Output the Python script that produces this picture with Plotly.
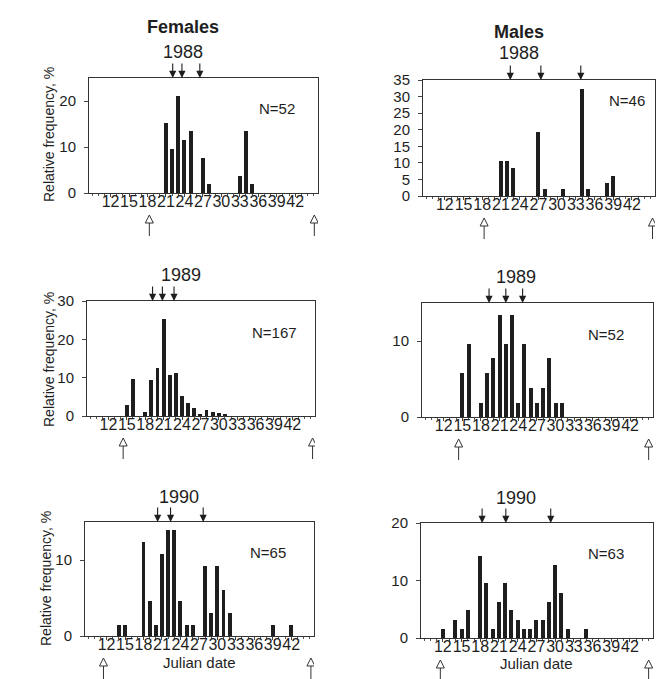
import plotly.graph_objects as go

# ---------------- data ----------------
x_tick_days = [12, 15, 18, 21, 24, 27, 30, 33, 36, 39, 42]
x_tick_labels = ["12", "15", "18", "21", "24", "27", "30", "33", "36", "39", "42"]

f1988_days = [21, 22, 23, 24, 25, 27, 28, 33, 34, 35]
f1988_vals = [15.3, 9.5, 21.0, 11.5, 13.4, 7.7, 1.9, 3.8, 13.4, 1.9]
f1988_marks = [22.1, 23.6, 26.5]
f1988_season = [18.3, 45.1]

m1988_days = [21, 22, 23, 27, 28, 31, 34, 35, 38, 39]
m1988_vals = [10.6, 10.6, 8.5, 19.2, 2.0, 2.0, 32.2, 2.0, 4.0, 6.0]
m1988_marks = [22.5, 27.4, 33.8]
m1988_season = [18.3, 45.3]

f1989_days = [15, 16, 18, 19, 20, 21, 22, 23, 24, 25, 26, 27, 28, 29, 30, 31]
f1989_vals = [3.0, 9.6, 1.0, 9.5, 12.5, 25.2, 10.6, 11.2, 5.1, 3.4, 2.2, 0.4, 1.5, 1.0, 0.9, 0.4]
f1989_marks = [19.2, 20.8, 22.7]
f1989_season = [14.4, 45.3]

m1989_days = [15, 16, 18, 19, 20, 21, 22, 23, 24, 25, 26, 27, 28, 29, 30, 31]
m1989_vals = [5.8, 9.6, 1.9, 5.8, 7.7, 13.4, 9.6, 13.4, 1.9, 9.6, 3.8, 1.9, 3.8, 7.7, 1.9, 1.9]
m1989_marks = [19.3, 22.0, 24.7]
m1989_season = [14.4, 45.0]

f1990_days = [14, 15, 18, 19, 20, 21, 22, 23, 24, 25, 26, 28, 29, 30, 31, 32, 39, 42]
f1990_vals = [1.5, 1.5, 12.4, 4.6, 1.5, 10.8, 14.0, 14.0, 4.6, 1.5, 1.5, 9.2, 3.0, 9.2, 6.1, 3.0, 1.5, 1.5]
f1990_marks = [20.3, 22.4, 27.7]
f1990_season = [11.5, 45.2]

m1990_days = [12, 14, 15, 16, 18, 19, 20, 21, 22, 23, 24, 25, 26, 27, 28, 29, 30, 31, 32, 35]
m1990_vals = [1.6, 3.2, 1.6, 4.8, 14.3, 9.5, 1.6, 6.3, 9.5, 4.8, 3.2, 1.6, 1.6, 3.2, 3.2, 6.3, 12.7, 7.9, 1.6, 1.6]
m1990_marks = [18.3, 22.1, 29.3]
m1990_season = [11.6, 45.0]

n_labels = ["N=52", "N=46", "N=167", "N=52", "N=65", "N=63"]
year_labels = ["1988", "1988", "1989", "1989", "1990", "1990"]
column_titles = ["Females", "Males"]
y_title = "Relative frequency, %"
x_title = "Julian date"

# ---------------- layout ----------------
W, H = 664, 679
FONT = "Liberation Sans, Arial, sans-serif"
INK = "#1e1e1e"

panels = [
    dict(days=f1988_days, vals=f1988_vals, marks=f1988_marks, season=f1988_season,
         yr=[0, 25], yt=[0, 10, 20], px=(89, 318), py=(78, 193),
         year_pos=(183, 52), n_pos=(277, 108)),
    dict(days=m1988_days, vals=m1988_vals, marks=m1988_marks, season=m1988_season,
         yr=[0, 35], yt=[0, 5, 10, 15, 20, 25, 30, 35], px=(423, 655), py=(80, 196),
         year_pos=(519, 53), n_pos=(627, 100)),
    dict(days=f1989_days, vals=f1989_vals, marks=f1989_marks, season=f1989_season,
         yr=[0, 30], yt=[0, 10, 20, 30], px=(87, 315), py=(301, 416),
         year_pos=(181, 275), n_pos=(274, 332)),
    dict(days=m1989_days, vals=m1989_vals, marks=m1989_marks, season=m1989_season,
         yr=[0, 15], yt=[0, 10], px=(422, 653), py=(303, 417),
         year_pos=(516, 277), n_pos=(606, 334)),
    dict(days=f1990_days, vals=f1990_vals, marks=f1990_marks, season=f1990_season,
         yr=[0, 15], yt=[0, 10], px=(85, 314), py=(522, 636),
         year_pos=(179, 497), n_pos=(268, 552)),
    dict(days=m1990_days, vals=m1990_vals, marks=m1990_marks, season=m1990_season,
         yr=[0, 20], yt=[0, 10, 20], px=(421, 653), py=(523, 638),
         year_pos=(516, 498), n_pos=(606, 553)),
]

fig = go.Figure()
layout = {}
annotations = []
shapes = []


def pap(px, py):
    return px / W, 1 - py / H


for i, p in enumerate(panels, start=1):
    sfx = "" if i == 1 else str(i)
    xa, ya = "x" + sfx, "y" + sfx
    fig.add_trace(go.Bar(x=p["days"], y=p["vals"], xaxis=xa, yaxis=ya,
                         marker=dict(color=INK, line=dict(width=0)),
                         width=0.64, showlegend=False, hoverinfo="x+y"))
    layout["xaxis" + sfx] = dict(
        domain=[p["px"][0] / W, p["px"][1] / W], anchor=ya, automargin=False,
        range=[8.5, 45.7], tickmode="array", tickvals=x_tick_days, ticktext=x_tick_labels,
        ticks="outside", ticklen=3, tickcolor="#444", tickangle=0, ticklabelstandoff=-9,
        minor=dict(tickmode="linear", tick0=0, dtick=1, ticks="outside", ticklen=2, tickcolor="#555"),
        showline=True, mirror=True, linecolor="#333", linewidth=1,
        showgrid=False, zeroline=False,
        tickfont=dict(family=FONT, size=16, color=INK), fixedrange=True)
    layout["yaxis" + sfx] = dict(
        domain=[1 - p["py"][1] / H, 1 - p["py"][0] / H], anchor=xa, automargin=False,
        range=p["yr"], tickmode="array", tickvals=p["yt"],
        ticks="outside", ticklen=4, tickcolor="#444", ticklabelstandoff=5,
        showline=True, mirror=True, linecolor="#333", linewidth=1,
        showgrid=False, zeroline=False,
        tickfont=dict(family=FONT, size=15, color=INK), fixedrange=True)

    # year label and N label
    x, y = pap(*p["year_pos"])
    annotations.append(dict(text=year_labels[i - 1], x=x, y=y, xref="paper", yref="paper",
                            showarrow=False, xanchor="center", yanchor="middle",
                            font=dict(family=FONT, size=18, color=INK)))
    x, y = pap(*p["n_pos"])
    annotations.append(dict(text=n_labels[i - 1], x=x, y=y, xref="paper", yref="paper",
                            showarrow=False, xanchor="center", yanchor="middle",
                            font=dict(family=FONT, size=15, color=INK)))

    # filled arrows above the panel
    for d in p["marks"]:
        annotations.append(dict(text="", x=d, y=1, xref=xa, yref=ya + " domain",
                                showarrow=True, ax=0, ay=-16, arrowhead=2, arrowsize=1.3,
                                arrowwidth=1.1, arrowcolor=INK, standoff=0))

    # open arrows below the panel
    for d in p["season"]:
        shapes.append(dict(type="path", xref=xa, yref=ya + " domain",
                           xsizemode="pixel", ysizemode="pixel", xanchor=d, yanchor=0,
                           path="M0,-22L-4,-30L4,-30Z",
                           line=dict(color="#333", width=1), fillcolor="white"))
        shapes.append(dict(type="path", xref=xa, yref=ya + " domain",
                           xsizemode="pixel", ysizemode="pixel", xanchor=d, yanchor=0,
                           path="M0,-30L0,-43",
                           line=dict(color="#333", width=1)))

# column titles
for txt, pos in zip(column_titles, [(183, 27), (519, 32)]):
    x, y = pap(*pos)
    annotations.append(dict(text="<b>" + txt + "</b>", x=x, y=y, xref="paper", yref="paper",
                            showarrow=False, xanchor="center", yanchor="middle",
                            font=dict(family=FONT, size=18, color=INK)))

# y axis titles (left column)
for pos in [(49, 135), (49, 360), (46, 579)]:
    x, y = pap(*pos)
    annotations.append(dict(text=y_title, x=x, y=y, xref="paper", yref="paper",
                            showarrow=False, textangle=-90, xanchor="center", yanchor="middle",
                            font=dict(family=FONT, size=14, color=INK)))

# x axis titles (bottom row)
for pos in [(199, 662), (536, 663)]:
    x, y = pap(*pos)
    annotations.append(dict(text=x_title, x=x, y=y, xref="paper", yref="paper",
                            showarrow=False, xanchor="center", yanchor="middle",
                            font=dict(family=FONT, size=15, color=INK)))

fig.update_layout(
    width=W, height=H, autosize=False,
    margin=dict(l=0, r=0, t=0, b=0, pad=0, autoexpand=False),
    paper_bgcolor="white", plot_bgcolor="white",
    font=dict(family=FONT, color=INK),
    bargap=0, annotations=annotations, shapes=shapes,
    **layout,
)

fig.write_html("out.html", config={"displayModeBar": False, "staticPlot": True},
               post_script="document.body.style.margin='0px';document.body.style.overflow='hidden';")
